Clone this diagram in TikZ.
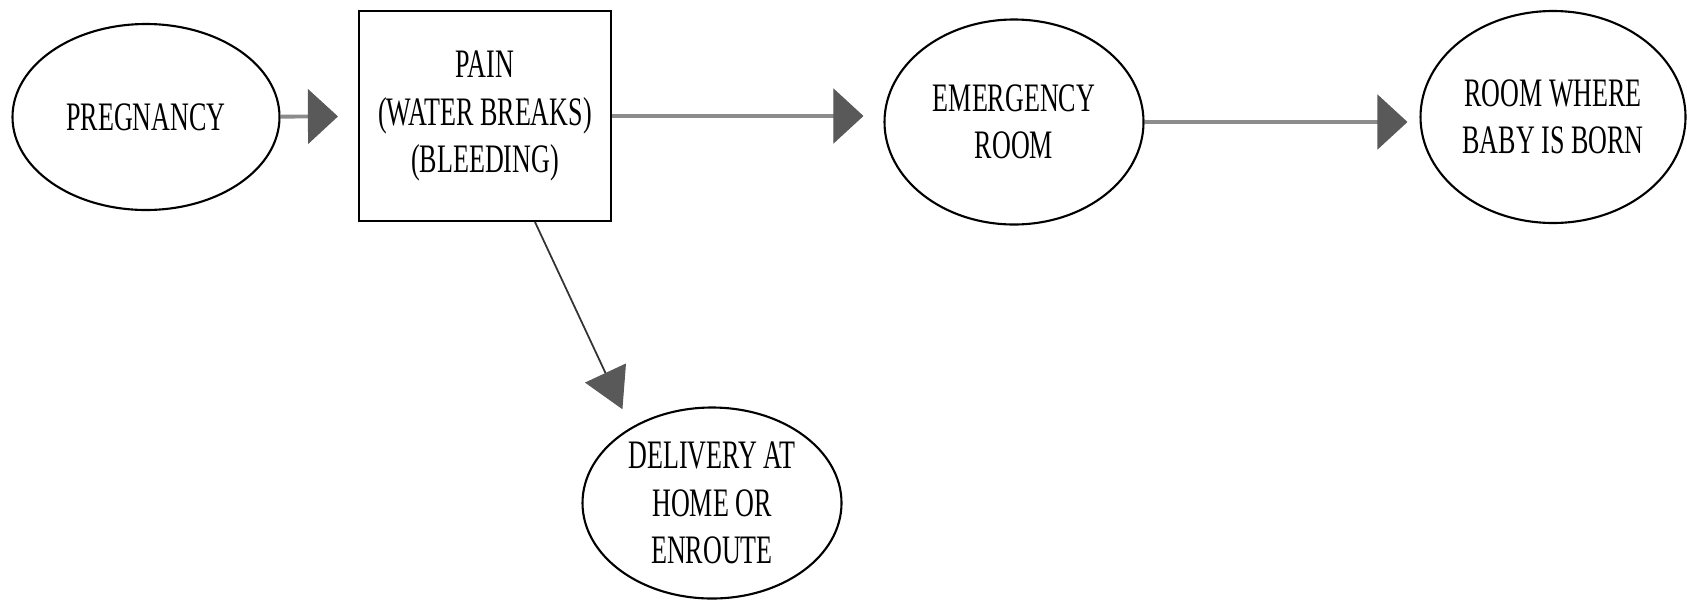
\documentclass[tikz,border=0pt]{standalone}
\usepackage{fontspec}
\setmainfont{Liberation Serif}[FakeStretch=0.645]
\usetikzlibrary{shapes.geometric, arrows.meta, shapes}
\tikzstyle{state} = [ellipse, inner sep=0pt, text centered, align=center, draw=black, line width=0.6pt, font=\fontsize{11.5}{13.5}\selectfont]
\tikzstyle{process} = [rectangle, inner sep=0pt, text centered, align=center, draw=black, line width=0.6pt, font=\fontsize{11.5}{13.5}\selectfont]
\tikzstyle{arrow} = [draw=black!45, line width=1.1pt, -{Triangle[length=0.30cm, width=0.55cm, color=black!65, fill=black!65, line width=0.3pt]}]
\tikzstyle{thinarrow} = [draw=black!80, line width=0.5pt, -{Triangle[length=0.40cm, width=0.45cm, color=black!65, fill=black!65, line width=0.3pt]}]

\begin{document}
\begin{tikzpicture}[yscale=-1]
\useasboundingbox (0,0) rectangle (16.87,6.00);

\node at (1.46, 1.17) (pregnancy) [state, minimum width=2.67cm, minimum height=1.86cm] {PREGNANCY};
\node at (4.85, 1.16) (pain) [process, minimum width=2.52cm, minimum height=2.10cm] {PAIN\\(WATER BREAKS)\\(BLEEDING)};
\node at (10.14, 1.22) (er) [state, minimum width=2.59cm, minimum height=2.05cm] {EMERGENCY\\ROOM};
\node at (15.53, 1.17) (born) [state, minimum width=2.65cm, minimum height=2.12cm] {ROOM WHERE\\BABY IS BORN};
\node at (7.12, 5.03) (home) [state, minimum width=2.59cm, minimum height=1.91cm] {DELIVERY AT\\HOME OR\\ENROUTE};

\draw [arrow, shorten >=0.2cm] (pregnancy) -- (pain);
\draw [arrow, shorten >=0.2cm] (pain.east) -- (pain.east -| er.west);
\draw [arrow, shorten >=0.12cm] (er.east) -- (er.east -| born.west);
\draw [thinarrow, shorten >=0.2cm] ([xshift=0.5cm]pain.south) -- (home.137);

\end{tikzpicture}
\end{document}
